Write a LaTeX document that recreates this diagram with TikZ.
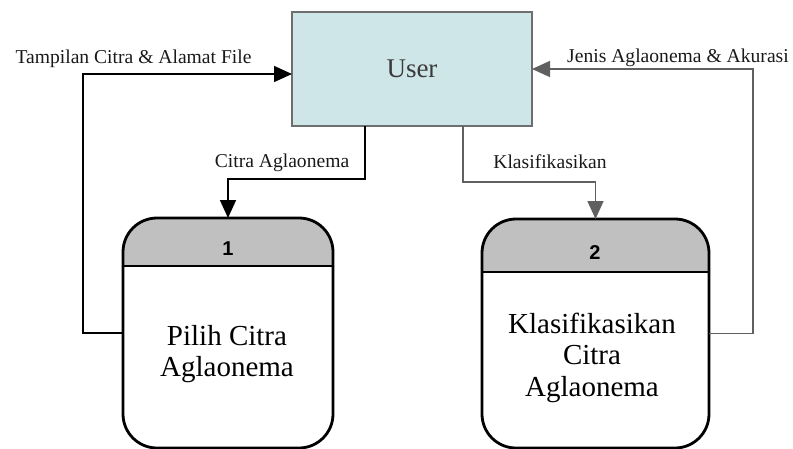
\documentclass[tikz,border=0pt]{standalone}
\usepackage{fontspec}
\setmainfont{Liberation Serif}
\newfontfamily\numfont{Liberation Sans}
\usetikzlibrary{arrows.meta}

\definecolor{userfill}{HTML}{CFE6E8}
\definecolor{userline}{HTML}{6E6E6E}
\definecolor{headgray}{HTML}{C0C0C0}
\definecolor{flowgray}{HTML}{606060}
\definecolor{usertext}{HTML}{3A3A3A}

\tikzset{
  x=1pt, y=-1pt,
  entity/.style={draw=userline, fill=userfill, line width=1.6pt,
    minimum width=240pt, minimum height=114pt, inner sep=0pt, outer sep=0pt},
  procbox/.style={draw=black, fill=white, line width=2.8pt,
    rounded corners=34pt, inner sep=0pt, outer sep=0pt,
    path picture={\fill[headgray, sharp corners]
      (path picture bounding box.north west)
      rectangle ([yshift=-#1]path picture bounding box.north east);}},
  divider/.style={draw=black, line width=2.8pt},
  flowA/.style={draw=black, line width=1.5pt,
    -{Triangle[length=18pt, width=16pt]}},
  flowB/.style={draw=flowgray, line width=1.5pt,
    -{Triangle[length=18pt, width=16pt, fill=flowgray]}},
  flowlabel/.style={font=\fontsize{19.6}{22}\selectfont, text=black!90,
    inner sep=0pt, anchor=base},
  proctext/.style={font=\fontsize{29}{31.5}\selectfont, align=center,
    inner sep=0pt},
  procnum/.style={font=\numfont\bfseries\fontsize{20}{22}\selectfont,
    inner sep=0pt},
}

\begin{document}
\begin{tikzpicture}
  \useasboundingbox (0,0) rectangle (793,448);
  \clip (0,0) rectangle (793,448);

  % external entity
  \node[entity] (user) at (412,69) {};
  \node[font=\fontsize{27}{30}\selectfont, text=usertext, inner sep=0pt]
    (usertxt) at (412,68.5) {User};

  % processes
  \node[procbox=48pt, minimum width=210pt, minimum height=230pt]
    (p1) at (228,333) {};
  \draw[divider] ([yshift=-48pt]p1.north west) -- ([yshift=-48pt]p1.north east);
  \node[procnum] (n1) at (228,248.5) {1};
  \node[proctext] (t1) at (227,354) {Pilih Citra\\Aglaonema};

  \node[procbox=53pt, minimum width=227pt, minimum height=229pt]
    (p2) at (595.5,333.5) {};
  \draw[divider] ([yshift=-53pt]p2.north west) -- ([yshift=-53pt]p2.north east);
  \node[procnum] (n2) at (595,253) {2};
  \node[proctext] (t2) at (592,357.5) {Klasifikasikan\\Citra\\Aglaonema};

  % data flows
  \draw[flowA] ([xshift=-47pt]user.south) -- ++(0,53) -| (p1.north);
  \draw[flowB] ([xshift=51pt]user.south) -- ++(0,56) -| (p2.north);
  \draw[flowA] (p1.west) -- ++(-40,0) |- ([yshift=-5pt]user.west);
  \draw[flowB] (p2.east) -- ++(44,0) |- (user.east);

  % flow labels
  \node[flowlabel] (l1) at (133.5,63) {Tampilan Citra \& Alamat File};
  \node[flowlabel] (l2) at (282,167) {Citra Aglaonema};
  \node[flowlabel] (l3) at (550,168) {Klasifikasikan};
  \node[flowlabel] (l4) at (678,62) {Jenis Aglaonema \& Akurasi};
\end{tikzpicture}
\end{document}
